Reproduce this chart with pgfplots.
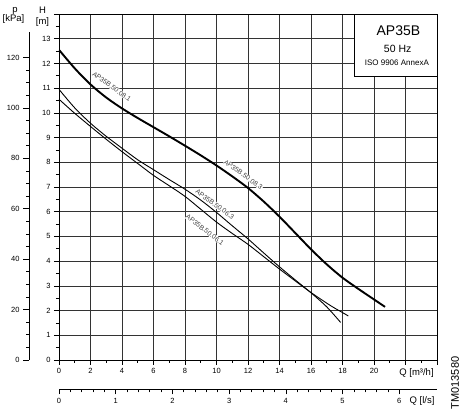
\documentclass[border=0pt]{standalone}
\usepackage{fontspec}
\setmainfont{Liberation Sans}
\usepackage{pgfplots}
\pgfplotsset{compat=1.18}
\pgfplotstableread{
x y
0 12.55
1 11.80
2 11.15
3 10.62
4 10.18
5 9.79
6 9.42
7 9.05
8 8.67
9 8.28
10 7.87
11 7.43
12 6.96
13 6.41
14 5.80
15 5.14
16 4.48
17 3.87
18 3.33
19 2.88
20 2.45
20.7 2.15
}\thick
\pgfplotstableread{
x y
0 10.95
1 10.20
2 9.58
3 9.05
4 8.57
5 8.10
6 7.70
7 7.30
8 6.91
9 6.47
10 5.97
11 5.43
12 4.90
13 4.33
14 3.77
15 3.24
16 2.72
17 2.15
17.88 1.52
}\thinA
\pgfplotstableread{
x y
0 10.55
1 9.98
2 9.45
3 8.93
4 8.43
5 7.95
6 7.47
7 7.05
8 6.62
9 6.10
10 5.58
11 5.12
12 4.68
13 4.18
14 3.68
15 3.20
16 2.73
17 2.30
17.5 2.10
18 1.92
18.37 1.78
}\thinB
\begin{document}
\begin{tikzpicture}
\path[use as bounding box] (-59pt,-59pt) rectangle (403pt,360pt);
\pgfplotsset{every axis/.append style={
  /pgf/number format/assume math mode=true,
  tick label style={font=\fontsize{7.5}{8}\selectfont},
  tick style={black, line width=0.6pt},
  axis line style={black, line width=0.8pt}}}
% pressure axis
\begin{axis}[at={(-30pt,0pt)}, anchor=south west, scale only axis,
  width=1pt, height=327.6pt, xmin=0, xmax=1, ymin=0, ymax=130,
  axis x line=none, axis y line*=left,
  ytick={0,20,...,120}, minor y tick num=3, tick align=outside,
  major tick length=6pt, minor tick length=3pt]
\addplot[draw=none] coordinates {(0,0)};
\end{axis}
% l/s axis
\begin{axis}[at={(0pt,-29pt)}, anchor=south west, scale only axis,
  width=378pt, height=1pt, xmin=0, xmax=6.6667, ymin=0, ymax=1,
  axis y line=none, axis x line*=bottom,
  xtick={0,1,...,6}, minor x tick num=4, tick align=outside,
  major tick length=5.5pt, minor tick length=3.3pt]
\addplot[draw=none] coordinates {(0,0)};
\end{axis}
% main axis
\begin{axis}[at={(0pt,0pt)}, anchor=south west, scale only axis,
  width=378pt, height=346pt, xmin=0, xmax=24, ymin=0, ymax=14,
  xtick={0,2,...,24}, xticklabels={0,2,4,6,8,10,12,14,16,18,20,{},{}},
  ytick={0,1,...,14}, yticklabels={0,1,2,3,4,5,6,7,8,9,10,11,12,13,{}},
  minor x tick num=1, minor y tick num=1, tick align=outside,
  xtick pos=left, ytick pos=left,
  major tick length=5pt, minor tick length=3pt,
  grid=major, major grid style={black!80, line width=0.6pt}]
\draw[black, line width=0.7pt, fill=white] (axis cs:18.73,11.49) rectangle (axis cs:24,14);
\node[font=\fontsize{14}{15}\selectfont] at (axis cs:21.55,13.34) {AP35B};
\node[font=\fontsize{10.5}{11}\selectfont] at (axis cs:21.5,12.58) {50 Hz};
\node[font=\fontsize{8}{9}\selectfont] at (axis cs:21.45,12.02) {ISO 9906 AnnexA};
\tikzset{lbl/.style={font=\fontsize{6.8}{7}\selectfont, text=black!75, fill=white, inner sep=0.4pt, rotate=-36}}
\node[lbl] at (axis cs:3.35,11.06) {AP35B.50.08.1};
\node[lbl] at (axis cs:11.7,7.5) {AP35B.50.08.3};
\node[lbl] at (axis cs:9.9,6.3) {AP35B.50.06.3};
\node[lbl, rotate=-1.5] at (axis cs:9.27,5.26) {AP35B.50.06.1};
\addplot[black, line width=0.9pt, smooth] table {\thinA};
\addplot[black, line width=0.9pt, smooth] table {\thinB};
\addplot[black, line width=1.9pt, smooth] table {\thick};
\end{axis}
\node[font=\fontsize{9.5}{10}\selectfont, anchor=base] at (-16.5pt,346pt) {H};
\node[font=\fontsize{9.5}{10}\selectfont, anchor=base] at (-16.5pt,335pt) {[m]};
\node[font=\fontsize{9.5}{10}\selectfont, anchor=base] at (-44pt,347pt) {p};
\node[font=\fontsize{9.5}{10}\selectfont, anchor=base] at (-45.5pt,338pt) {[kPa]};
\node[font=\fontsize{9.5}{10}\selectfont, anchor=base] at (357.5pt,-16pt) {Q [m³/h]};
\node[font=\fontsize{9.5}{10}\selectfont, anchor=base] at (363pt,-44pt) {Q [l/s]};
\node[font=\fontsize{11}{12}\selectfont, rotate=90] at (396pt,-23pt) {TM013580};
\end{tikzpicture}
\end{document}
